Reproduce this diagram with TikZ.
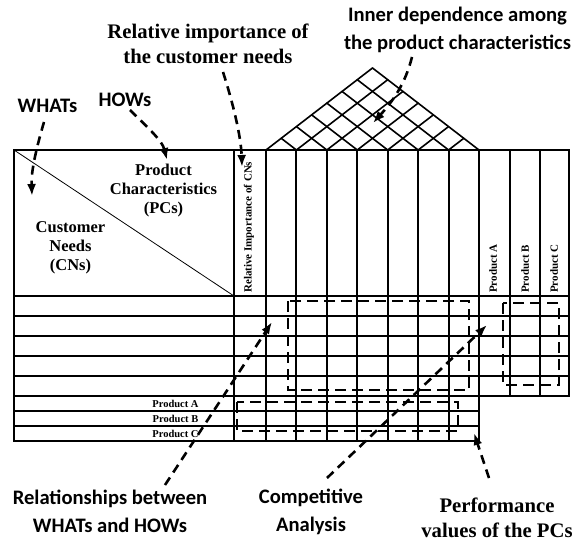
\documentclass[tikz,border=0pt]{standalone}
\usepackage{fontspec}
\setmainfont{Liberation Serif}
\newfontfamily\labelsans{Carlito}
\usetikzlibrary{arrows.meta}

\begin{document}
\begin{tikzpicture}[x=1pt,y=-1pt,
  frameline/.style={line width=2pt, line cap=rect},
  roofline/.style={line width=1.6pt, line cap=round},
  zone/.style={line width=2.6pt, dash pattern=on 11pt off 6pt},
  pointer/.style={line width=2.6pt, dash pattern=on 9pt off 6pt,
    -{Latex[length=12pt,width=9pt]}},
  sanslabel/.style={font=\labelsans\bfseries\fontsize{20.6}{28}\selectfont,
    align=center, inner sep=0pt},
  seriflabel/.style={font=\bfseries\fontsize{20.7}{25.5}\selectfont,
    align=center, inner sep=0pt},
  boxlabel/.style={font=\bfseries\fontsize{16.5}{19}\selectfont,
    align=center, inner sep=0pt},
  sidelabel/.style={font=\bfseries\fontsize{11}{12}\selectfont,
    inner sep=0pt, rotate=90, anchor=west},
  rowlabel/.style={font=\bfseries\fontsize{10.5}{12}\selectfont, inner sep=0pt},
]
\useasboundingbox (0,0) rectangle (574,543);

% ---------- matrix body ----------
\foreach \y in {150,296,316,336,356,376,396}
  \draw[frameline] (14,\y) -- (569,\y);
\foreach \y in {411,426,441}
  \draw[frameline] (14,\y) -- (479,\y);
\foreach \x in {14,234,266,296.43,326.86,357.29,387.71,418.14,448.57,479}
  \draw[frameline] (\x,150) -- (\x,441);
\foreach \x in {510,539.5,569}
  \draw[frameline] (\x,150) -- (\x,396);

% corner split of the header cell
\draw[line width=0.8pt] (14,150) -- (234,296);

% ---------- correlation roof (slope 82/106.5) ----------
\foreach \i in {0,...,7}{
  \pgfmathsetmacro\xa{266+\i*213/7}
  \pgfmathsetmacro\yr{150-0.385*(479-\xa)}
  \pgfmathsetmacro\yl{150-0.385*(\xa-266)}
  \draw[roofline] (\xa,150) -- ({(479+\xa)/2},\yr);
  \draw[roofline] (\xa,150) -- ({(266+\xa)/2},\yl);
}

% ---------- cell texts ----------
\node[boxlabel] (pcs) at (163.5,191) {Product\\Characteristics\\(PCs)};
\node[boxlabel] (cns) at (70.5,248) {Customer\\Needs\\(CNs)};
\node[sidelabel] (relcol) at (249,293) {Relative Importance of CNs};
\node[sidelabel] (colA) at (493,293) {Product A};
\node[sidelabel] (colB) at (525,293) {Product B};
\node[sidelabel] (colC) at (554,293) {Product C};
\node[rowlabel] (rowA) at (175.5,403.5) {Product A};
\node[rowlabel] (rowB) at (175.5,418.5) {Product B};
\node[rowlabel] (rowC) at (175.5,433.5) {Product C};

% ---------- highlighted zones ----------
\draw[zone] (288,301) rectangle (469,390);
\draw[zone] (503,303) rectangle (559,385);
\draw[zone] (237,402) rectangle (458,431);

% ---------- callouts ----------
\node[sanslabel] (whats) at (47.5,106) {WHATs};
\node[sanslabel] (hows) at (125,100) {HOWs};
\node[seriflabel] (relimp) at (208,44) {Relative importance of\\the customer needs};
\node[sanslabel] (inner) at (457.5,30) {Inner dependence among\\the product characteristics};
\node[sanslabel] (rel) at (110,511) {Relationships between\\WHATs and HOWs};
\node[sanslabel] (comp) at (311,512) {Competitive\\Analysis};
\node[seriflabel] (perf) at (497,518) {Performance\\values of the PCs};

\coordinate (whatsS) at (44,122);  \coordinate (whatsT) at (32,196);
\coordinate (howsS) at (130,110);  \coordinate (howsT) at (167,160);
\coordinate (relimpS) at (223,72); \coordinate (relimpT) at (242,167);
\coordinate (innerS) at (412,57);  \coordinate (innerT) at (373,123);
\coordinate (relS) at (165,485);   \coordinate (relT) at (272,322);
\coordinate (compS) at (327,478);  \coordinate (compT) at (487,325);
\coordinate (perfS) at (489,478);  \coordinate (perfT) at (474,433);

\draw[pointer] (whatsS) .. controls (37,146) and (31,170) .. (whatsT);
\draw[pointer] (howsS) .. controls (145,125) and (162,140) .. (howsT);
\draw[pointer] (relimpS) .. controls (232,100) and (241,135) .. (relimpT);
\draw[pointer] (innerS) .. controls (405,85) and (392,102) .. (innerT);
\draw[pointer] (relS) -- (relT);
\draw[pointer] (compS) -- (compT);
\draw[pointer] (perfS) -- (perfT);
\end{tikzpicture}
\end{document}
